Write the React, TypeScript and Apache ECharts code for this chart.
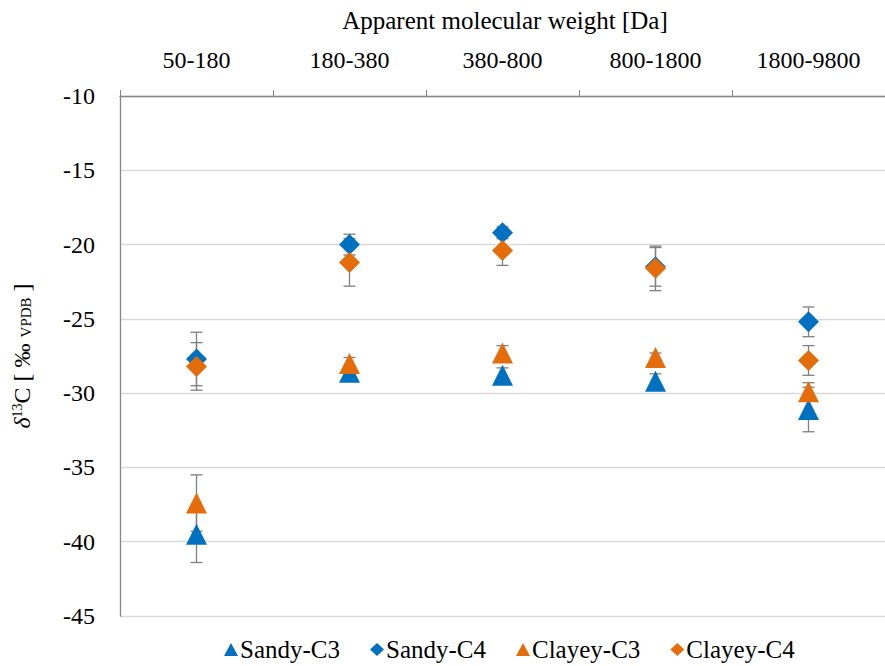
import React, { useEffect, useRef } from "react";
import * as echarts from "echarts";

// Apparent molecular weight classes (Da)
const categories = ["50-180", "180-380", "380-800", "800-1800", "1800-9800"];

// δ13C means (‰ VPDB) and their error half-widths
const sandyC3 = [-39.5, -28.6, -28.8, -29.2, -31.1];
const sandyC3Err = [1.9, 0.3, 0.5, 0.5, 1.5];
const sandyC4 = [-27.7, -20.0, -19.2, -21.5, -25.2];
const sandyC4Err = [1.8, 0.7, 0.4, 1.3, 1.0];
const clayeyC3 = [-37.4, -28.0, -27.3, -27.6, -29.9];
const clayeyC3Err = [1.9, 0.4, 0.5, 0.3, 0.6];
const clayeyC4 = [-28.2, -21.2, -20.4, -21.6, -27.8];
const clayeyC4Err = [1.6, 1.6, 1.0, 1.5, 1.0];

const yTicks = { min: -45, max: -10, step: 5 };

const BLUE = "#0070C0";
const ORANGE = "#E46C0A";
const FONT = "Liberation Serif";

type SeriesDef = {
  name: string;
  values: number[];
  errors: number[];
  color: string;
  symbol: string;
};

const seriesDefs: SeriesDef[] = [
  { name: "Sandy-C3", values: sandyC3, errors: sandyC3Err, color: BLUE, symbol: "triangle" },
  { name: "Sandy-C4", values: sandyC4, errors: sandyC4Err, color: BLUE, symbol: "diamond" },
  { name: "Clayey-C3", values: clayeyC3, errors: clayeyC3Err, color: ORANGE, symbol: "triangle" },
  { name: "Clayey-C4", values: clayeyC4, errors: clayeyC4Err, color: ORANGE, symbol: "diamond" },
];

// Vertical whisker with caps, drawn under the markers
function errorBarSeries(def: SeriesDef) {
  return {
    type: "custom",
    name: def.name + " range",
    z: 1,
    silent: true,
    encode: { x: 0, y: [1, 2] },
    data: def.values.map((v, i) => [i, v - def.errors[i], v + def.errors[i]]),
    renderItem: (_params: any, api: any) => {
      const lo = api.coord([api.value(0), api.value(1)]);
      const hi = api.coord([api.value(0), api.value(2)]);
      const half = 6;
      const style = { stroke: "#7F7F7F", lineWidth: 1.3 };
      return {
        type: "group",
        children: [
          { type: "line", shape: { x1: lo[0], y1: lo[1], x2: hi[0], y2: hi[1] }, style },
          { type: "line", shape: { x1: lo[0] - half, y1: lo[1], x2: lo[0] + half, y2: lo[1] }, style },
          { type: "line", shape: { x1: hi[0] - half, y1: hi[1], x2: hi[0] + half, y2: hi[1] }, style },
        ],
      };
    },
  };
}

function markerSeries(def: SeriesDef) {
  return {
    type: "scatter",
    name: def.name,
    z: 3,
    symbol: def.symbol,
    symbolSize: 21,
    itemStyle: { color: def.color, opacity: 1 },
    data: def.values.map((v, i) => [i, v]),
  };
}

const serif = (size: number) => ({
  fontFamily: FONT,
  fontSize: size,
  fontWeight: "normal",
  fontStyle: "normal",
  color: "#000",
});

export default function App() {
  const ref = useRef<HTMLDivElement>(null);

  useEffect(() => {
    if (!ref.current) return;
    const chart = echarts.init(ref.current, undefined, { renderer: "svg" });
    chart.setOption({
      animation: false,
      backgroundColor: "#ffffff",
      textStyle: { fontFamily: FONT },
      grid: { left: 120, top: 96, width: 771, height: 520, containLabel: false },
      graphic: [
        {
          type: "text",
          x: 505,
          y: 20,
          style: {
            text: "Apparent molecular weight [Da]",
            fontFamily: FONT,
            fontSize: 25,
            fill: "#000",
            textAlign: "center",
            textVerticalAlign: "middle",
          },
        },
      ],
      legend: {
        data: seriesDefs.map((d) => d.name),
        left: 219,
        top: 632,
        itemWidth: 14,
        itemHeight: 13,
        itemGap: 30,
        textStyle: { ...serif(25), padding: [0, 0, 0, -3] },
      },
      xAxis: {
        type: "category",
        position: "top",
        data: categories,
        boundaryGap: true,
        axisLine: { show: true, lineStyle: { color: "#868686", width: 1.3 } },
        axisTick: { show: true, inside: false, length: 6, lineStyle: { color: "#868686" } },
        axisLabel: { ...serif(24), margin: 24, interval: 0 },
        splitLine: { show: false },
      },
      yAxis: {
        type: "value",
        min: yTicks.min,
        max: yTicks.max,
        interval: yTicks.step,
        axisLine: { show: true, lineStyle: { color: "#868686", width: 1.3 } },
        axisTick: { show: false },
        axisLabel: { ...serif(24), margin: 25 },
        splitLine: { show: true, lineStyle: { color: "#D9D9D9", width: 1.3 } },
        name: "{d|δ}{s|13}{n|C [ ‰ }{b|VPDB}{n| ]}",
        nameLocation: "middle",
        nameGap: 86,
        nameRotate: 90,
        nameTextStyle: {
          ...serif(24),
          rich: {
            d: { ...serif(24), fontStyle: "italic" },
            s: { ...serif(14), padding: [0, 0, 10, 0] },
            n: serif(24),
            b: { ...serif(15), padding: [8, 0, 0, 0] },
          },
        },
      },
      series: [...seriesDefs.map(errorBarSeries), ...seriesDefs.map(markerSeries)],
    });
    return () => chart.dispose();
  }, []);

  return (
    <div
      ref={ref}
      style={{ position: "absolute", left: 0, top: 0, width: 885, height: 666, overflow: "hidden" }}
    />
  );
}
